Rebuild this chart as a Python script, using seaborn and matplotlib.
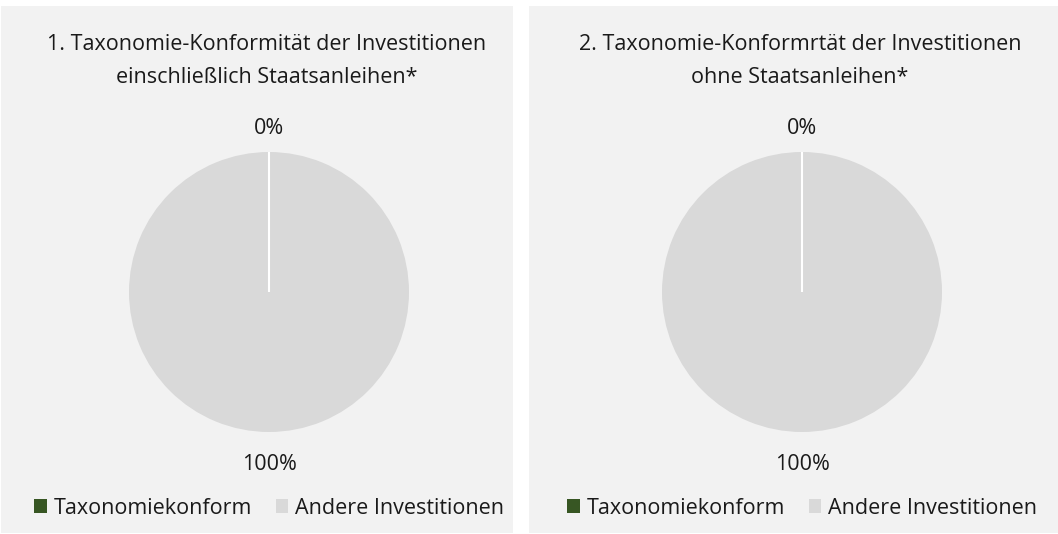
import matplotlib
matplotlib.use("Agg")
import numpy as np
import matplotlib.pyplot as plt
import seaborn as sns

# data
CATEGORIES = ["Taxonomiekonform", "Andere Investitionen"]
CHART_TITLES = [
    "1. Taxonomie-Konformität der Investitionen\neinschließlich Staatsanleihen*",
    "2. Taxonomie-Konformrtät der Investitionen\nohne Staatsanleihen*",
]
VALUES_INCL = [0, 100]
VALUES_EXCL = [0, 100]

GREEN = "#375623"
LIGHT_GREY = "#d9d9d9"
PANEL_BG = "#f2f2f2"
TEXT = "#1a1a1a"
PALETTE = [GREEN, LIGHT_GREY]

sns.set_theme(style="white")
plt.rcParams["font.family"] = ["Open Sans", "DejaVu Sans"]

W, H = 1058, 534
FS = 15.5
fig = plt.figure(figsize=(W / 100, H / 100), dpi=100, facecolor="white")

panels = [(1, 513, 269), (529, 1058, 802)]
for (x0, x1, cx), title, values in zip(panels, CHART_TITLES, [VALUES_INCL, VALUES_EXCL]):
    # panel background
    bg = fig.add_axes([x0 / W, 1 / H, (x1 - x0) / W, (H - 7) / H])
    bg.set_facecolor(PANEL_BG)
    bg.set_xticks([])
    bg.set_yticks([])
    for s in bg.spines.values():
        s.set_visible(False)
    bg.set_xlim(x0, x1)
    bg.set_ylim(H, 7)

    cy, r = 292, 140

    bg.text(cx - 2, 62, title, ha="center", va="center", fontsize=FS,
            color=TEXT, linespacing=1.72)

    pie_ax = fig.add_axes([(cx - r) / W, (H - cy - r) / H, 2 * r / W, 2 * r / H])
    wedges, _ = pie_ax.pie(values, colors=PALETTE, startangle=90, counterclock=False,
                           wedgeprops=dict(linewidth=0))
    pie_ax.set_xlim(-1, 1)
    pie_ax.set_ylim(-1, 1)
    pie_ax.axis("off")

    # separator line at the start of the (empty) first slice
    w0 = wedges[0]
    ang = np.deg2rad(w0.theta1)
    pie_ax.plot([w0.center[0], w0.center[0] + w0.r * np.cos(ang)],
                [w0.center[1], w0.center[1] + w0.r * np.sin(ang)],
                color="white", lw=1.5, solid_capstyle="butt")

    bg.text(cx, 129, f"{values[0]}%", ha="center", va="center", fontsize=FS, color=TEXT)
    bg.text(cx, 465, f"{values[1]}%", ha="center", va="center", fontsize=FS, color=TEXT)

    handles = [plt.Rectangle((0, 0), 1, 1, facecolor=c, edgecolor="none") for c in PALETTE]
    bg.legend(handles, CATEGORIES, loc="center",
              bbox_to_anchor=((cx - x0) / (x1 - x0), 25 / (H - 7)),
              ncol=2, frameon=False, fontsize=FS, handlelength=0.6, handleheight=0.6,
              handletextpad=0.3, columnspacing=1.1, labelcolor=TEXT,
              borderpad=0, borderaxespad=0)

fig.savefig("out.png", dpi=100, facecolor="white")
